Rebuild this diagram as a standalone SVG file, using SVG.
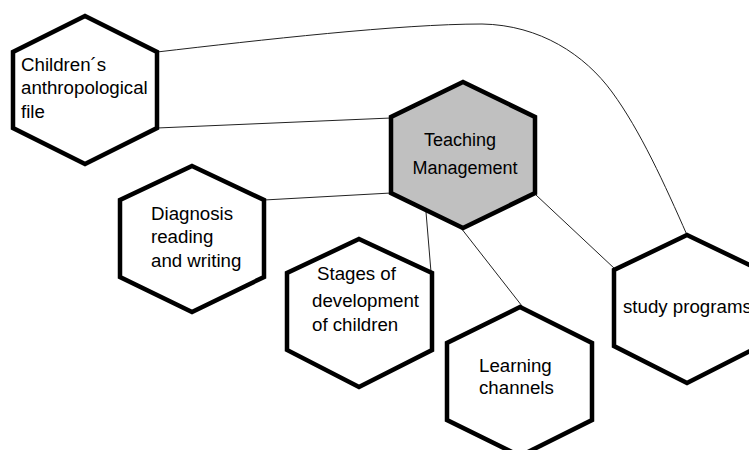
<svg xmlns="http://www.w3.org/2000/svg" width="749" height="450" viewBox="0 0 749 450">
  <style>
    .hex { fill: #ffffff; stroke: #000000; stroke-width: 4.5; stroke-linejoin: miter; }
    .hub { fill: #c0c0c0; }
    .link { fill: none; stroke: #222222; stroke-width: 1; }
    .lbl { font-family: "Liberation Sans", Arial, sans-serif; font-size: 18.7px; fill: #000000; }
    .mid { text-anchor: middle; font-size: 18px; }
  </style>
  <rect width="749" height="450" fill="#ffffff"/>

  <g id="connectors">
    <path class="link" d="M157,52 C260,40 400,24 482,24 C540,25 585,55 612,92 C640,130 665,185 687,235"/>
    <line class="link" x1="157" y1="128" x2="391" y2="118"/>
    <line class="link" x1="264" y1="200" x2="391" y2="193"/>
    <line class="link" x1="426" y1="212" x2="431" y2="272"/>
    <line class="link" x1="461" y1="228" x2="522" y2="306"/>
    <line class="link" x1="536" y1="195" x2="615" y2="269"/>
  </g>

  <g id="node-anthropological-file">
    <polygon class="hex" points="85,16 157,52 157,128 85,164 13,128 13,52"/>
    <text class="lbl" x="21" y="71">Children´s</text>
    <text class="lbl" x="21" y="94">anthropological</text>
    <text class="lbl" x="21" y="118">file</text>
  </g>

  <g id="node-teaching-management">
    <polygon class="hex hub" points="463,82 535,117 535,193 463,228 391,193 391,117"/>
    <text class="lbl mid" x="460" y="146">Teaching</text>
    <text class="lbl mid" x="465" y="174">Management</text>
  </g>

  <g id="node-diagnosis">
    <polygon class="hex" points="192,166 264,200 264,277 192,312 120,277 120,200"/>
    <text class="lbl" x="151" y="220">Diagnosis</text>
    <text class="lbl" x="151" y="243">reading</text>
    <text class="lbl" x="151" y="267">and writing</text>
  </g>

  <g id="node-stages">
    <polygon class="hex" points="359,239 432,273 432,350 359,387 287,350 287,273"/>
    <text class="lbl" x="317" y="280">Stages of</text>
    <text class="lbl" x="312" y="307">development</text>
    <text class="lbl" x="312" y="331">of children</text>
  </g>

  <g id="node-learning-channels">
    <polygon class="hex" points="520,307 592,343 592,420 520,456 447,420 447,343"/>
    <text class="lbl" x="479" y="372">Learning</text>
    <text class="lbl" x="479" y="394">channels</text>
  </g>

  <g id="node-study-programs">
    <polygon class="hex" points="687,235 760,270 760,346 687,383 614,346 614,270"/>
    <text class="lbl" x="623" y="313">study programs</text>
  </g>
</svg>
